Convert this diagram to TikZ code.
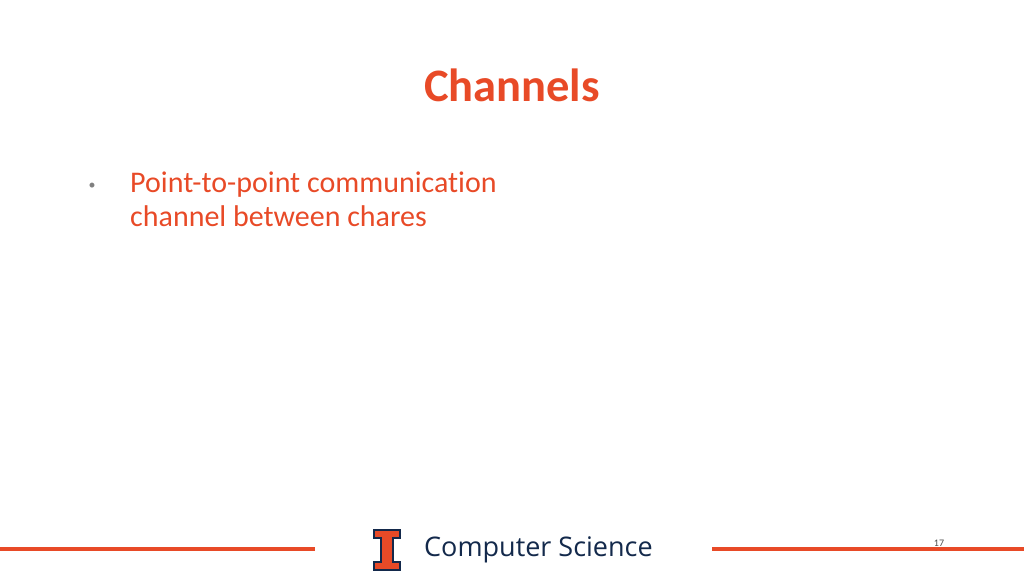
\documentclass[tikz,border=0pt]{standalone}
\usepackage{fontspec}
\setmainfont[Ligatures=NoCommon]{Carlito}
\newfontfamily\sansf{Open Sans}
\definecolor{ill}{HTML}{E84A27}
\definecolor{navy}{HTML}{13294B}
\begin{document}
\begin{tikzpicture}[x=1pt,y=-1pt]
\useasboundingbox (0,0) rectangle (1024,576);
\tikzset{rule/.style={ill,line width=4pt}, txt/.style={ill,anchor=west,inner sep=0pt}}
\node[ill,font=\fontsize{46.5}{54}\selectfont\bfseries] (title) at (512,85) {Channels};
\node[gray,font=\fontsize{14}{16}\selectfont] (bul) at (92,186) {\textbullet};
\node[txt,font=\fontsize{30}{36}\selectfont] (l1) at (130,185) {Point-to-point communication};
\node[txt,font=\fontsize{30}{36}\selectfont] (l2) at (130,216) {channel between chares};
\coordinate (a) at (0,549); \coordinate (b) at (315,549);
\coordinate (c) at (712,549); \coordinate (d) at (1024,549);
\draw[rule] (a) -- (b);
\draw[rule] (c) -- (d);
\draw[navy,fill=ill,line width=1.2pt] (374,530) -- (400,530) -- (400,538) -- (393,538) -- (393,562) -- (400,562) -- (400,570) -- (374,570) -- (374,562) -- (381,562) -- (381,538) -- (374,538) -- cycle;
\node[navy,anchor=west,inner sep=0pt,font=\sansf\fontsize{27}{32}\selectfont] (cs) at (424,550) {Computer Science};
\node[black!70,font=\fontsize{10}{12}\selectfont] (pg) at (939,543) {17};
\end{tikzpicture}
\end{document}
